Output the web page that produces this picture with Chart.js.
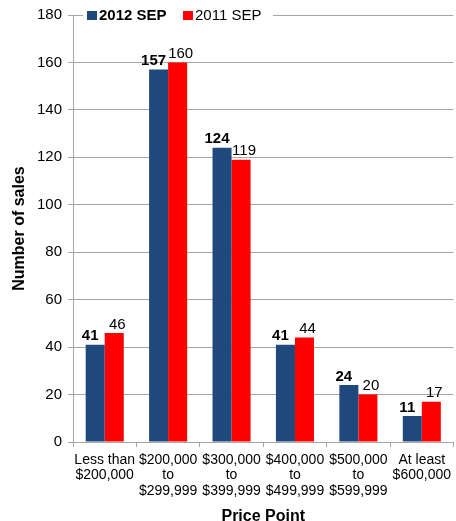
<!DOCTYPE html>
<html>
<head>
<meta charset="utf-8">
<script src="https://cdn.jsdelivr.net/npm/chart.js@4/dist/chart.umd.min.js"></script>
<style>
  body { margin: 0; background: #fff; }
  #wrap { width: 456px; height: 521px; }
</style>
</head>
<body>
<div id="wrap"><canvas id="chart" width="456" height="521"></canvas></div>
<script>
// data
const categories = [
  ['Less than', '$200,000'],
  ['$200,000', 'to', '$299,999'],
  ['$300,000', 'to', '$399,999'],
  ['$400,000', 'to', '$499,999'],
  ['$500,000', 'to', '$599,999'],
  ['At least', '$600,000'],
];
const sales2012 = [41, 157, 124, 41, 24, 11];
const sales2011 = [46, 160, 119, 44, 20, 17];
const seriesNames = ['2012 SEP', '2011 SEP'];
const yTicks = { min: 0, max: 180, step: 20 };

const FONT = '"Liberation Sans", Arial, sans-serif';
const BLUE = '#1f497d';
const RED = '#ff0000';
const GRID = '#a6a6a6';

// value labels above each bar, 2012 ones in bold
const valueLabels = {
  id: 'valueLabels',
  afterDatasetsDraw(chart) {
    const ctx = chart.ctx;
    ctx.save();
    ctx.fillStyle = '#000';
    ctx.textBaseline = 'bottom';
    ctx.textAlign = 'center';
    chart.data.datasets.forEach((ds, i) => {
      const meta = chart.getDatasetMeta(i);
      ctx.font = (i === 0 ? 'bold ' : '') + '15px ' + FONT;
      meta.data.forEach((bar, j) => {
        const dx = i === 0 ? -5 : 3;
        ctx.fillText(String(ds.data[j]), bar.x + dx, bar.y - 1);
      });
    });
    ctx.restore();
  }
};

// legend sitting on the top gridline, with a white box behind it
const topLegend = {
  id: 'topLegend',
  afterDraw(chart) {
    const ctx = chart.ctx;
    const y = chart.scales.y.getPixelForValue(yTicks.max);
    ctx.save();
    ctx.fillStyle = '#fff';
    ctx.fillRect(83, y - 10, 190, 20);
    ctx.textBaseline = 'middle';
    ctx.textAlign = 'left';
    let x = 87;
    chart.data.datasets.forEach((ds, i) => {
      ctx.fillStyle = ds.backgroundColor;
      ctx.fillRect(x, y - 4, 10, 9);
      ctx.fillStyle = '#000';
      ctx.font = (i === 0 ? 'bold ' : '') + '15px ' + FONT;
      ctx.fillText(seriesNames[i], x + 12, y + 1);
      x += 96;
    });
    ctx.restore();
  }
};

new Chart(document.getElementById('chart'), {
  type: 'bar',
  data: {
    labels: categories,
    datasets: [
      { label: seriesNames[0], data: sales2012, backgroundColor: BLUE },
      { label: seriesNames[1], data: sales2011, backgroundColor: RED },
    ],
  },
  options: {
    responsive: false,
    animation: false,
    layout: { padding: { top: 15, right: 0, left: 0, bottom: 0 } },
    datasets: { bar: { categoryPercentage: 0.6, barPercentage: 1.0 } },
    plugins: {
      legend: { display: false },
      tooltip: { enabled: false },
    },
    scales: {
      x: {
        grid: { drawOnChartArea: false, drawTicks: true, tickLength: 5, color: GRID },
        border: { color: GRID },
        ticks: { color: '#000', font: { family: FONT, size: 14, lineHeight: 1.12 }, maxRotation: 0, autoSkip: false, padding: 5 },
        title: { display: true, text: 'Price Point', color: '#000', font: { family: FONT, size: 16, weight: 'bold', lineHeight: 0.6 }, padding: 0 },
        afterFit(s) { s.height = 79; },
      },
      y: {
        min: yTicks.min,
        max: yTicks.max,
        grid: { color: GRID, tickLength: 5 },
        border: { color: GRID },
        ticks: { stepSize: yTicks.step, color: '#000', font: { family: FONT, size: 15 }, padding: 6 },
        title: { display: true, text: 'Number of sales', color: '#000', font: { family: FONT, size: 16, weight: 'bold' }, padding: { top: 10, bottom: 0 } },
        afterFit(s) { s.width = 73; },
      },
    },
  },
  plugins: [valueLabels, topLegend],
});
</script>
</body>
</html>
